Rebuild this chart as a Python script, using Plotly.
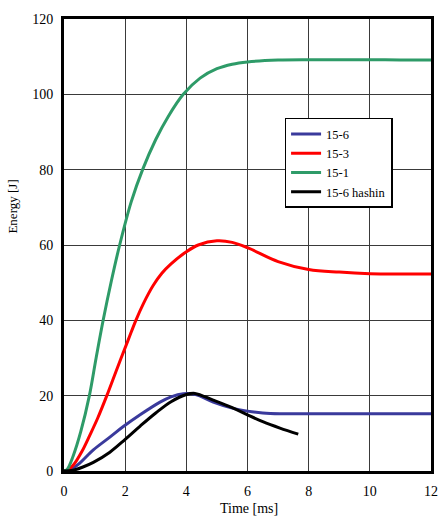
import plotly.graph_objects as go

# 15-6
t_156 = [0, 0.2, 0.5, 0.96, 1.5, 1.94, 2.5, 3.14, 3.5, 3.9, 4.3, 4.88, 5.5, 6.0, 6.5, 7.06, 8, 9, 10, 11, 12]
e_156 = [0, 0.3, 2.0, 5.6, 9.0, 11.8, 15.0, 18.3, 19.7, 20.5, 20.3, 18.3, 16.7, 15.9, 15.4, 15.2, 15.2, 15.2, 15.2, 15.2, 15.2]

# 15-3
t_153 = [0, 0.1, 0.3, 0.58, 0.85, 1.1, 1.4, 1.75, 2.1, 2.35, 2.6, 2.92, 3.2, 3.5, 4.0, 4.39, 5.0, 5.5, 6.0, 7.0, 8.0, 9.0, 10.0, 11.0, 12.0]
e_153 = [0, 0.1, 1.5, 5.1, 9.6, 14.0, 20.0, 27.5, 34.8, 40.0, 44.5, 49.3, 52.5, 55.0, 58.2, 60.0, 61.1, 60.7, 59.3, 55.6, 53.5, 52.8, 52.4, 52.3, 52.3]

# 15-1
t_151 = [0, 0.1, 0.3, 0.55, 0.83, 1.05, 1.28, 1.55, 1.82, 2.2, 2.57, 3.0, 3.4, 3.9, 4.45, 5.0, 5.5, 6.0, 7.0, 8.0, 9.0, 10.0, 11.0, 12.0]
e_151 = [0, 0.4, 4.0, 10.5, 20.0, 30.0, 40.0, 50.5, 60.0, 71.5, 80.0, 88.0, 94.0, 100.0, 104.3, 106.8, 108.0, 108.6, 109.1, 109.2, 109.2, 109.2, 109.1, 109.1]

# 15-6 hashin
t_hash = [0, 0.3, 0.6, 0.96, 1.5, 2.0, 2.5, 3.0, 3.5, 4.0, 4.28, 4.88, 5.5, 6.0, 6.5, 7.06, 7.66]
e_hash = [0, 0.2, 1.0, 2.3, 5.0, 8.4, 12.0, 15.4, 18.4, 20.3, 20.6, 18.8, 16.8, 14.9, 13.1, 11.4, 9.8]

x_ticks = [0, 2, 4, 6, 8, 10, 12]
y_ticks = [0, 20, 40, 60, 80, 100, 120]

series = [
    ("15-6", t_156, e_156, "#3a3a9c"),
    ("15-3", t_153, e_153, "#ff0000"),
    ("15-1", t_151, e_151, "#2e9b68"),
    ("15-6 hashin", t_hash, e_hash, "#000000"),
]

fig = go.Figure()
for name, xs, ys, col in series:
    fig.add_trace(go.Scatter(x=xs, y=ys, name=name, mode="lines",
                             line=dict(color=col, width=3, shape="spline", smoothing=1.0)))

font_family = "Liberation Serif, Times New Roman, serif"
fig.update_layout(
    width=444, height=525,
    margin=dict(l=64, r=13, t=19, b=54),
    paper_bgcolor="white", plot_bgcolor="white",
    font=dict(family=font_family, size=14, color="black"),
    showlegend=True,
    legend=dict(x=0.601, y=0.781, xanchor="left", yanchor="top",
                bgcolor="white", bordercolor="black", borderwidth=1.5,
                font=dict(family=font_family, size=12.5, color="black"),
                itemwidth=30, tracegroupgap=0),
    xaxis=dict(range=[0, 12], tickvals=x_ticks, showgrid=True, gridcolor="#3a3a3a", gridwidth=1,
               showline=True, linecolor="black", linewidth=3, mirror=True, zeroline=False,
               ticks="", ticklabelstandoff=5, automargin=False),
    yaxis=dict(range=[0, 120], tickvals=y_ticks, showgrid=True, gridcolor="#3a3a3a", gridwidth=1,
               showline=True, linecolor="black", linewidth=3, mirror=True, zeroline=False,
               ticks="", ticklabelstandoff=5, automargin=False),
    annotations=[
        dict(text="Time [ms]", xref="paper", yref="paper", x=0.505, y=-0.084,
             xanchor="center", yanchor="middle", showarrow=False,
             font=dict(family=font_family, size=14, color="black")),
        dict(text="Energy [J]", xref="paper", yref="paper", x=-0.139, y=0.585,
             xanchor="center", yanchor="middle", textangle=-90, showarrow=False,
             font=dict(family=font_family, size=13, color="black")),
    ],
)

fig.write_html("out.html")
